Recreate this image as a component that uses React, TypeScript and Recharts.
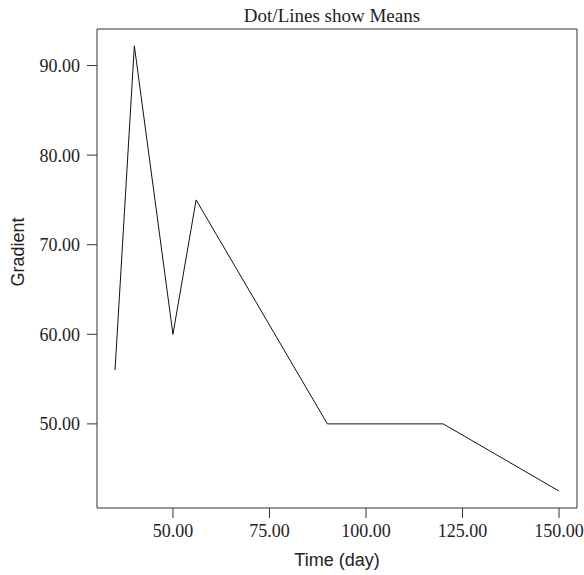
import { LineChart, Line, XAxis, YAxis, ReferenceLine } from 'recharts'

document.body.style.margin = '0'

const times = [35, 40, 50, 56, 90, 120, 150]
const gradient = [56, 92.2, 60, 75, 50, 50, 42.5]
const xTicks = [50, 75, 100, 125, 150]
const yTicks = [50, 60, 70, 80, 90]

const X_DOMAIN: [number, number] = [30.33, 154.65]
const Y_DOMAIN: [number, number] = [40.61, 94.08]

const data = times.map((t, i) => ({ time: t, gradient: gradient[i] }))

const SERIF = '"Liberation Serif", "Times New Roman", serif'
const SANS = '"Liberation Sans", Arial, sans-serif'
const AXIS = '#333'

const fmt = (v: number) => v.toFixed(2)

function YTitle() {
  const cx = 18
  const cy = 252
  return (
    <text
      x={cx}
      y={cy}
      transform={`rotate(-90 ${cx} ${cy})`}
      textAnchor="middle"
      dominantBaseline="central"
      fontFamily={SANS}
      fontSize={18}
      fill="#222"
    >
      Gradient
    </text>
  )
}

export default function App() {
  return (
    <LineChart
      width={584}
      height={575}
      data={data}
      margin={{ top: 29, right: 7, bottom: 0, left: 0 }}
    >
      <XAxis
        dataKey="time"
        type="number"
        domain={X_DOMAIN}
        ticks={xTicks}
        tickFormatter={fmt}
        allowDataOverflow
        height={67}
        tickSize={10}
        tickMargin={6}
        stroke={AXIS}
        tick={{ fill: '#222', fontFamily: SERIF, fontSize: 18 }}
        label={{
          value: 'Time (day)',
          position: 'insideBottom',
          offset: 9,
          style: { fontFamily: SANS, fontSize: 18, fill: '#222' },
        }}
      />
      <YAxis
        type="number"
        domain={Y_DOMAIN}
        ticks={yTicks}
        tickFormatter={fmt}
        allowDataOverflow
        width={97}
        tickSize={10}
        tickMargin={7}
        stroke={AXIS}
        tick={{ fill: '#222', fontFamily: SERIF, fontSize: 18 }}
        label={{ content: () => <YTitle /> }}
      />
      {/* frame: top and right edges */}
      <ReferenceLine
        y={Y_DOMAIN[1]}
        stroke={AXIS}
        strokeWidth={1}
        label={{
          value: 'Dot/Lines show Means',
          position: 'top',
          offset: 7,
          dx: -5,
          style: { fontFamily: SERIF, fontSize: 19, fill: '#222' },
        }}
      />
      <ReferenceLine x={X_DOMAIN[1]} stroke={AXIS} strokeWidth={1} />
      <Line
        dataKey="gradient"
        type="linear"
        stroke="#111"
        strokeWidth={1}
        dot={false}
        activeDot={false}
        isAnimationActive={false}
      />
    </LineChart>
  )
}
